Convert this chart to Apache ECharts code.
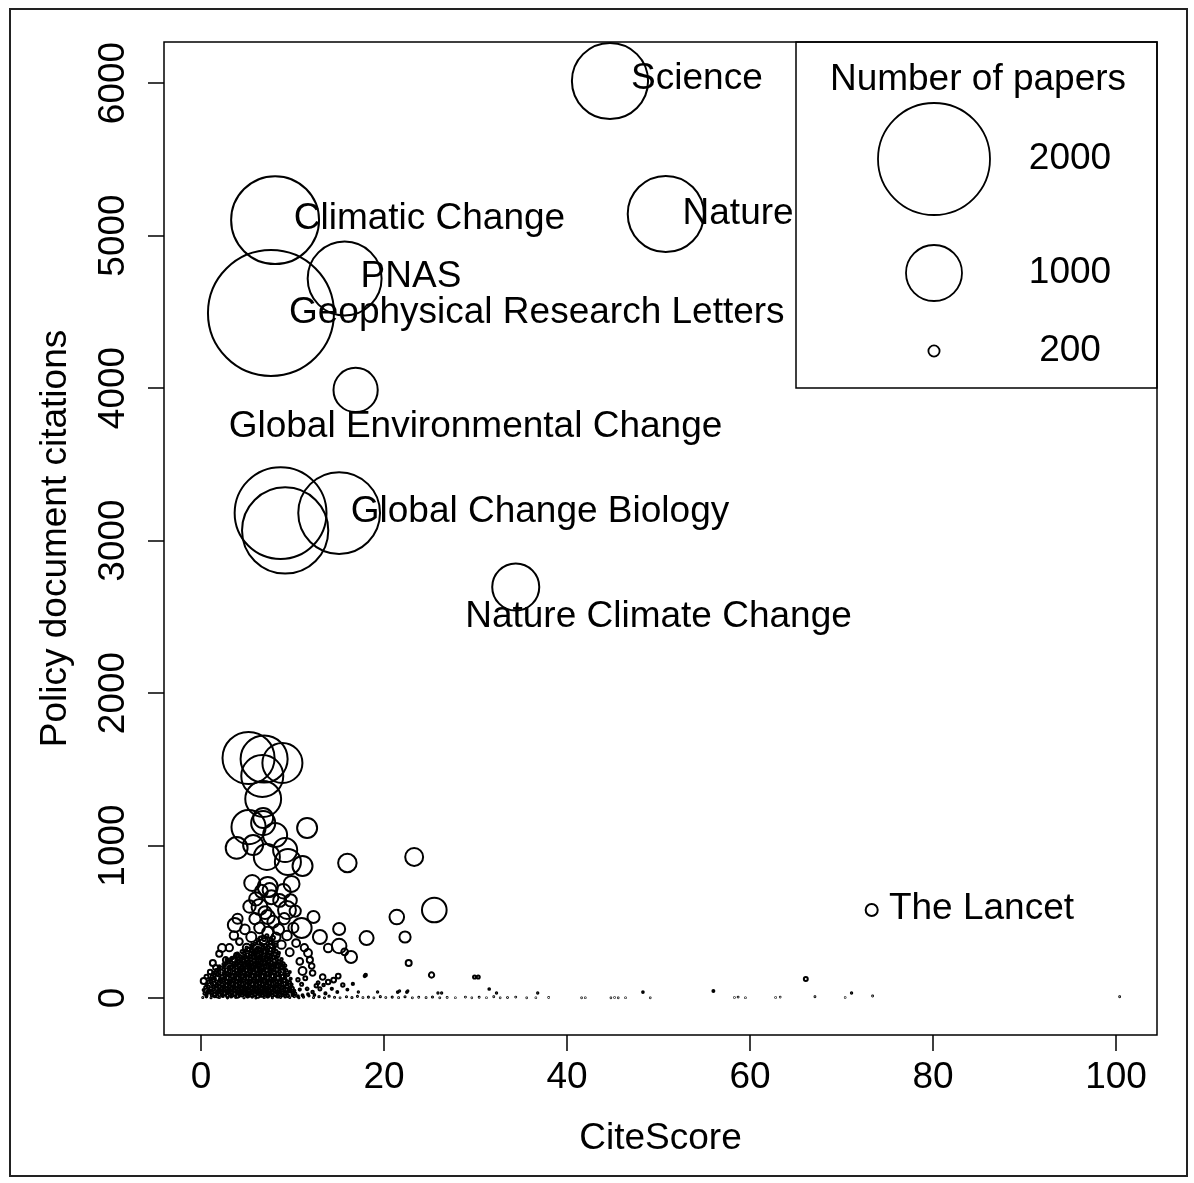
<!DOCTYPE html>
<html>
<head>
<meta charset="utf-8">
<title>Policy document citations vs CiteScore</title>
<script src="https://cdn.jsdelivr.net/npm/echarts@6/dist/echarts.min.js"></script>
<style>
  html, body { margin: 0; padding: 0; background: #fff; }
  #chart { width: 1194px; height: 1183px; }
</style>
</head>
<body>
<div id="chart"></div>
<script>
// labelled journals: CiteScore, policy document citations, number of papers
const journalNames = ['Science', 'Nature', 'Climatic Change', 'PNAS', 'Geophysical Research Letters',
  'Global Environmental Change', 'Global Change Biology', 'Nature Climate Change', 'The Lancet']
const journalCite = [44.7, 50.8, 8.1, 15.7, 7.65, 16.9, 15.1, 34.4, 73.3]
const journalPolicy = [6013, 5141, 5101, 4718, 4492, 3987, 3180, 2695, 577]
const journalPapers = [1360, 1360, 1570, 1320, 2250, 790, 1460, 840, 215]
// where each name is written (data coordinates, text centre)
const labelCite = [54.2, 58.7, 24.97, 22.95, 36.7, 30.0, 37.05, 50.0, 85.3]
const labelPolicy = [6028, 5143, 5110, 4730, 4493, 3746, 3189, 2500, 585]

// the unlabelled journals: [CiteScore, policy citations, papers]
const bigJournals = [
  [8.7, 3180, 1640], [9.2, 3066, 1540],
  [5.2, 1574, 930], [6.9, 1567, 840], [8.9, 1541, 715], [6.7, 1456, 750], [6.8, 1305, 640],
  [11.6, 1115, 357], [5.2, 1121, 610], [6.8, 1180, 357], [6.8, 1147, 430], [8.1, 1069, 430],
  [3.9, 984, 390], [5.7, 1003, 357], [7.2, 925, 465], [9.2, 970, 430], [9.5, 892, 465],
  [11.1, 866, 357], [16.0, 885, 330], [5.6, 754, 285], [7.3, 728, 357], [7.5, 708, 250],
  [9.9, 748, 285], [6.4, 597, 285], [9.4, 577, 320], [7.3, 531, 250], [3.7, 479, 250],
  [11.0, 459, 357], [12.3, 531, 215], [15.1, 452, 215], [13.0, 400, 250], [18.1, 393, 250],
  [15.1, 341, 260], [13.9, 328, 150], [15.7, 302, 120], [16.4, 269, 215], [2.3, 328, 140],
  [1.3, 230, 107], [0.3, 111, 107], [11.7, 295, 140], [11.1, 177, 140], [12.2, 164, 100],
  [12.1, 210, 100], [13.3, 138, 100], [14.5, 118, 85], [15.0, 144, 85], [17.9, 144, 40],
  [23.3, 925, 320], [25.5, 577, 440], [21.4, 531, 260], [22.3, 400, 200], [22.7, 230, 107],
  [25.2, 151, 95], [29.9, 138, 55], [30.3, 138, 55], [66.1, 125, 70]
]

const midJournals = [
  [2.0, 290, 110], [3.1, 330, 130], [3.6, 410, 150], [4.2, 370, 120], [4.8, 450, 170],
  [5.0, 330, 140], [5.5, 400, 180], [5.9, 520, 200], [6.2, 300, 160], [6.4, 460, 190],
  [6.8, 380, 150], [7.0, 560, 230], [7.3, 430, 200], [7.6, 320, 170], [7.9, 500, 210],
  [8.2, 400, 160], [8.5, 450, 190], [8.8, 350, 150], [9.1, 520, 200], [9.4, 410, 170],
  [9.7, 300, 140], [10.1, 460, 180], [10.4, 360, 140], [10.8, 240, 120], [4.5, 250, 100],
  [3.9, 280, 90], [2.7, 250, 100], [1.6, 200, 90], [1.0, 170, 80], [0.6, 140, 70],
  [5.3, 600, 220], [6.0, 650, 240], [8.6, 640, 230], [9.8, 640, 220], [10.3, 570, 200],
  [4.0, 520, 180], [7.7, 660, 250], [6.6, 700, 230], [9.0, 700, 260], [11.3, 330, 130],
  [11.9, 250, 110], [12.6, 80, 60], [13.0, 60, 55], [12.8, 100, 50], [13.4, 85, 45],
  [13.9, 105, 80], [14.3, 60, 40], [15.5, 85, 60], [14.9, 40, 35], [16.0, 55, 35],
  [13.6, 30, 40], [12.2, 40, 45], [11.6, 60, 50], [11.0, 90, 55], [10.6, 120, 60], [11.4, 130, 70]
]

// the dense heap of small journals near the origin
const smallJournals = [
  [0.4, 30, 45], [0.9, 38, 50], [1.5, 25, 55], [2.0, 42, 60], [2.6, 30, 65], [3.1, 45, 60],
  [3.7, 28, 70], [4.2, 40, 65], [4.8, 32, 75], [5.3, 46, 70], [5.9, 27, 75], [6.4, 42, 70],
  [7.0, 30, 75], [7.5, 44, 65], [8.1, 26, 70], [8.6, 40, 60], [9.2, 31, 55], [9.7, 45, 50], [10.3, 28, 45],
  [0.5, 70, 50], [1.1, 62, 55], [1.7, 78, 60], [2.3, 64, 65], [2.8, 80, 70], [3.4, 66, 75],
  [3.9, 82, 70], [4.5, 68, 80], [5.0, 79, 75], [5.6, 63, 80], [6.1, 81, 75], [6.7, 66, 80],
  [7.2, 77, 75], [7.8, 62, 70], [8.3, 80, 70], [8.9, 67, 65], [9.4, 76, 55], [10.0, 64, 50],
  [0.8, 105, 50], [1.4, 116, 55], [2.0, 100, 60], [2.5, 119, 65], [3.1, 104, 70], [3.6, 118, 75],
  [4.2, 101, 70], [4.7, 121, 80], [5.3, 106, 75], [5.8, 118, 80], [6.4, 99, 75], [6.9, 117, 80],
  [7.5, 103, 75], [8.0, 120, 70], [8.6, 106, 65], [9.1, 115, 60], [9.7, 102, 50],
  [1.2, 142, 50], [1.8, 155, 55], [2.3, 140, 60], [2.9, 158, 65], [3.4, 145, 70], [4.0, 160, 75],
  [4.5, 141, 70], [5.1, 157, 80], [5.6, 146, 75], [6.2, 161, 80], [6.7, 143, 75], [7.3, 158, 80],
  [7.8, 144, 70], [8.4, 156, 65], [8.9, 141, 60], [9.5, 152, 50],
  [1.7, 182, 50], [2.2, 196, 55], [2.8, 184, 60], [3.3, 199, 65], [3.9, 181, 70], [4.4, 195, 75],
  [5.0, 183, 70], [5.5, 200, 80], [6.1, 185, 75], [6.6, 198, 80], [7.2, 182, 75], [7.7, 197, 70],
  [8.3, 186, 65], [8.8, 199, 60], [9.3, 181, 50],
  [2.5, 222, 50], [3.0, 238, 55], [3.6, 225, 60], [4.1, 240, 65], [4.7, 221, 70], [5.2, 236, 75],
  [5.8, 224, 70], [6.3, 241, 80], [6.9, 226, 75], [7.4, 239, 70], [8.0, 223, 65], [8.5, 237, 60], [9.0, 225, 50],
  [3.4, 262, 50], [4.0, 278, 55], [4.6, 264, 60], [5.1, 280, 70], [5.7, 266, 65], [6.2, 279, 75],
  [6.8, 261, 70], [7.3, 277, 75], [7.9, 265, 65], [8.4, 279, 55],
  [4.5, 305, 55], [5.2, 318, 60], [5.8, 302, 70], [6.4, 320, 65], [7.0, 304, 75], [7.6, 317, 65], [8.2, 306, 55],
  [5.6, 345, 55], [6.3, 362, 60], [7.0, 343, 65], [7.6, 366, 60], [8.2, 348, 55],
  [6.5, 392, 60], [7.2, 408, 55], [7.9, 395, 60],
  // second layer, in between the first
  [0.6, 15, 40], [1.2, 18, 45], [1.8, 12, 50], [2.3, 20, 50], [2.9, 14, 55], [3.4, 19, 55], [4.0, 13, 60],
  [4.5, 21, 60], [5.1, 15, 60], [5.6, 18, 60], [6.2, 12, 60], [6.7, 20, 60], [7.3, 16, 60], [7.8, 19, 55],
  [8.4, 13, 55], [8.9, 21, 50], [9.5, 14, 45], [10.0, 19, 40], [10.6, 12, 35], [11.1, 18, 35], [11.7, 25, 35], [12.4, 20, 30],
  [0.3, 52, 40], [0.8, 48, 45], [1.4, 55, 50], [1.9, 50, 50], [2.5, 56, 55], [3.0, 49, 60], [3.6, 54, 60],
  [4.1, 51, 60], [4.7, 57, 60], [5.2, 50, 60], [5.8, 55, 60], [6.3, 49, 60], [6.9, 56, 60], [7.4, 51, 60],
  [8.0, 54, 55], [8.5, 50, 55], [9.1, 57, 50], [9.6, 52, 45], [10.2, 47, 40], [10.8, 55, 40],
  [0.6, 88, 40], [1.2, 92, 45], [1.7, 86, 50], [2.3, 90, 55], [2.8, 85, 60], [3.4, 93, 60], [3.9, 87, 60],
  [4.5, 91, 60], [5.0, 86, 60], [5.6, 92, 60], [6.1, 88, 60], [6.7, 90, 60], [7.2, 85, 60], [7.8, 93, 55],
  [8.3, 89, 55], [8.9, 86, 50], [9.4, 92, 45], [9.9, 88, 40],
  [1.0, 125, 40], [1.5, 128, 45], [2.1, 122, 50], [2.6, 130, 55], [3.2, 124, 60], [3.7, 129, 60], [4.3, 123, 60],
  [4.8, 131, 60], [5.4, 126, 60], [5.9, 129, 60], [6.5, 124, 60], [7.0, 130, 60], [7.6, 125, 55], [8.1, 128, 55],
  [8.7, 123, 50], [9.2, 130, 45], [9.8, 126, 40],
  [1.4, 165, 40], [2.0, 170, 45], [2.5, 163, 50], [3.1, 172, 55], [3.6, 166, 60], [4.2, 171, 60], [4.7, 164, 60],
  [5.3, 173, 60], [5.8, 167, 60], [6.4, 170, 60], [6.9, 165, 60], [7.5, 172, 55], [8.0, 166, 55], [8.6, 171, 50],
  [9.1, 164, 45], [9.7, 170, 40],
  [2.0, 208, 40], [2.6, 212, 45], [3.1, 206, 50], [3.7, 214, 55], [4.2, 209, 60], [4.8, 213, 60], [5.3, 207, 60],
  [5.9, 215, 60], [6.4, 210, 60], [7.0, 212, 60], [7.5, 206, 55], [8.1, 214, 55], [8.6, 209, 50], [9.2, 212, 45],
  [2.8, 250, 40], [3.3, 255, 45], [3.9, 248, 50], [4.4, 256, 55], [5.0, 251, 60], [5.5, 254, 60], [6.1, 249, 60],
  [6.6, 257, 60], [7.2, 252, 55], [7.7, 255, 55], [8.3, 250, 50], [8.8, 254, 45],
  [4.0, 290, 45], [4.7, 294, 50], [5.4, 288, 55], [6.0, 296, 60], [6.6, 291, 60], [7.2, 293, 55], [7.8, 289, 50], [8.5, 295, 45],
  [5.0, 330, 45], [5.6, 334, 50], [6.2, 328, 55], [6.8, 335, 55], [7.4, 331, 50], [8.0, 333, 45],
  // third layer
  [0.7, 36, 45], [1.2, 33, 50], [1.8, 37, 55], [2.3, 34, 60], [2.9, 38, 60], [3.4, 35, 60], [4.0, 36, 60],
  [4.5, 34, 60], [5.0, 38, 60], [5.6, 35, 60], [6.1, 37, 60], [6.7, 34, 60], [7.2, 38, 60], [7.8, 35, 55],
  [8.3, 37, 55], [8.9, 34, 50], [9.4, 38, 45], [10.0, 35, 40],
  [0.8, 73, 45], [1.4, 71, 50], [2.0, 74, 55], [2.5, 72, 60], [3.1, 75, 60], [3.6, 71, 60], [4.2, 74, 60],
  [4.7, 72, 60], [5.3, 75, 60], [5.8, 71, 60], [6.4, 74, 60], [6.9, 72, 60], [7.5, 75, 55], [8.0, 71, 55],
  [8.6, 74, 50], [9.1, 72, 45], [9.7, 70, 40],
  [1.1, 110, 45], [1.7, 108, 50], [2.2, 112, 55], [2.8, 109, 60], [3.3, 111, 60], [3.9, 108, 60], [4.4, 112, 60],
  [5.0, 109, 60], [5.5, 111, 60], [6.1, 108, 60], [6.6, 112, 60], [7.2, 109, 60], [7.7, 111, 55], [8.3, 108, 55],
  [8.8, 112, 50], [9.4, 109, 45],
  [1.5, 150, 45], [2.0, 148, 50], [2.6, 152, 55], [3.1, 149, 60], [3.7, 151, 60], [4.2, 148, 60], [4.8, 152, 60],
  [5.3, 149, 60], [5.9, 151, 60], [6.4, 148, 60], [7.0, 152, 60], [7.5, 149, 55], [8.1, 151, 55], [8.6, 148, 50],
  [9.2, 152, 45],
  [2.0, 190, 45], [2.5, 188, 50], [3.1, 192, 55], [3.6, 189, 60], [4.2, 191, 60], [4.7, 188, 60], [5.3, 192, 60],
  [5.8, 189, 60], [6.4, 191, 60], [6.9, 188, 60], [7.5, 192, 55], [8.0, 189, 55], [8.6, 191, 50], [9.1, 188, 45],
  [2.8, 230, 45], [3.3, 232, 50], [3.9, 229, 55], [4.4, 231, 60], [5.0, 228, 60], [5.5, 232, 60], [6.1, 229, 60],
  [6.6, 231, 60], [7.2, 228, 55], [7.7, 232, 55], [8.3, 229, 50], [8.8, 231, 45],
  [3.7, 270, 45], [4.3, 272, 50], [4.9, 269, 55], [5.4, 271, 60], [6.0, 268, 60], [6.5, 272, 60], [7.1, 269, 55],
  [7.6, 271, 55], [8.2, 270, 50],
  [4.8, 310, 45], [5.5, 312, 50], [6.1, 309, 55], [6.7, 311, 55], [7.3, 310, 50], [7.9, 312, 45],
  [5.9, 355, 45], [6.6, 352, 50], [7.3, 356, 50], [7.9, 354, 45],
  [6.2, 380, 50], [6.9, 384, 55], [7.6, 381, 50]
]

// journals with hardly any policy citations, strung along zero
const tinyJournals = [
  [0.2, 3, 20], [0.6, 8, 25], [1.1, 2, 20], [1.5, 10, 30], [2.0, 4, 25], [2.4, 12, 30], [2.9, 1, 20],
  [3.3, 9, 30], [3.8, 5, 25], [4.2, 14, 30], [4.7, 2, 20], [5.1, 11, 30], [5.6, 6, 25], [6.0, 1, 20],
  [6.5, 13, 30], [6.9, 4, 25], [7.3, 9, 30], [7.8, 2, 20], [8.3, 12, 30], [8.7, 5, 25], [9.2, 8, 30],
  [9.7, 3, 20], [10.2, 10, 25], [10.7, 2, 20], [11.2, 7, 25], [11.8, 14, 25], [12.3, 3, 20], [12.9, 9, 25],
  [13.5, 2, 20], [14.0, 12, 25], [14.6, 5, 20], [15.2, 1, 15], [15.9, 8, 20], [16.5, 3, 20], [17.1, 11, 20],
  [17.7, 2, 15], [18.3, 6, 20], [18.9, 1, 15], [19.6, 9, 20], [20.2, 3, 15], [20.9, 6, 20], [21.6, 2, 15],
  [22.3, 8, 20], [23.1, 1, 15], [23.8, 5, 15], [24.6, 2, 15], [25.3, 7, 20], [26.1, 1, 15], [26.9, 4, 15],
  [27.8, 2, 10], [28.9, 6, 15], [29.6, 1, 10], [30.4, 5, 15], [31.2, 2, 10], [32.0, 8, 15], [32.7, 1, 10],
  [33.5, 3, 15], [34.4, 6, 15], [35.6, 1, 10], [36.6, 2, 10], [38.0, 4, 10], [41.6, 1, 10], [42.0, 2, 10],
  [44.8, 1, 10], [45.2, 3, 10], [45.6, 1, 10], [46.4, 2, 10], [49.1, 1, 10], [58.3, 3, 10], [58.7, 6, 15],
  [59.5, 2, 10], [62.8, 3, 10], [63.3, 6, 10], [67.1, 8, 15], [70.4, 3, 10], [73.4, 13, 15], [100.4, 8, 15],
  [21.5, 39, 30], [22.5, 39, 30], [25.9, 33, 25], [26.3, 33, 25], [31.5, 59, 30], [32.3, 33, 25],
  [36.8, 33, 25], [48.3, 39, 30], [56.0, 46, 35], [71.1, 33, 25], [16.6, 92, 40], [17.2, 39, 25],
  [18.0, 151, 45], [19.3, 39, 25], [21.7, 46, 25], [22.6, 46, 25]
]

const xTicks = [0, 20, 40, 60, 80, 100]
const yTicks = [0, 1000, 2000, 3000, 4000, 5000, 6000]
const legendPapers = [2000, 1000, 200]

const FONT = '"Liberation Sans", Arial, Helvetica, sans-serif'
// circle radius in px grows linearly with the number of papers
const PX_PER_PAPER = 0.028
const diameter = (n) => Math.max(2 * n * PX_PER_PAPER, 0.6)

const journalPoints = journalNames.map((name, i) => [journalCite[i], journalPolicy[i], journalPapers[i]])
const allPoints = journalPoints.concat(bigJournals, midJournals, smallJournals, tinyJournals)
const labelPoints = journalNames.map((name, i) => ({ name, value: [labelCite[i], labelPolicy[i]] }))

const chart = echarts.init(document.getElementById('chart'), null, { renderer: 'canvas' })

const legendX = 934
const legendRows = [159, 273, 351]
const legendGraphics = [
  { type: 'rect', shape: { x: 796, y: 42, width: 361, height: 346 },
    style: { fill: 'none', stroke: '#000', lineWidth: 1.5 } },
  { type: 'text', x: 978, y: 80,
    style: { text: 'Number of papers', font: '37px ' + FONT, fill: '#000', align: 'center', verticalAlign: 'middle' } }
]
legendPapers.forEach((n, i) => {
  legendGraphics.push({ type: 'circle', shape: { cx: legendX, cy: legendRows[i], r: n * PX_PER_PAPER },
    style: { fill: 'none', stroke: '#000', lineWidth: 1.8 } })
  legendGraphics.push({ type: 'text', x: 1070, y: legendRows[i],
    style: { text: String(n), font: '37px ' + FONT, fill: '#000', align: 'center', verticalAlign: 'middle' } })
})

chart.setOption({
  animation: false,
  backgroundColor: '#fff',
  textStyle: { fontFamily: FONT },
  grid: {
    left: 164, top: 42, width: 993, height: 993,
    show: true, borderColor: '#000', borderWidth: 1.5, backgroundColor: 'transparent'
  },
  xAxis: {
    type: 'value',
    min: -4.04,
    max: 104.48,
    name: 'CiteScore',
    nameLocation: 'middle',
    nameGap: 85,
    nameTextStyle: { fontSize: 37, color: '#000', fontFamily: FONT },
    splitLine: { show: false },
    axisLine: { show: false, onZero: false },
    axisTick: { show: true, length: 16, lineStyle: { color: '#000', width: 1.5 }, customValues: xTicks },
    axisLabel: { fontSize: 37, color: '#000', margin: 24, lineHeight: 37, fontFamily: FONT, customValues: xTicks }
  },
  yAxis: {
    type: 'value',
    min: -242.6,
    max: 6268.9,
    name: 'Policy document citations',
    nameLocation: 'middle',
    nameGap: 90,
    nameTextStyle: { fontSize: 37, color: '#000', fontFamily: FONT },
    splitLine: { show: false },
    axisLine: { show: false, onZero: false },
    axisTick: { show: true, length: 16, lineStyle: { color: '#000', width: 1.5 }, customValues: yTicks },
    axisLabel: {
      fontSize: 37, color: '#000', margin: 32, rotate: 90, lineHeight: 37, fontFamily: FONT,
      customValues: yTicks, formatter: (v) => String(v)
    }
  },
  graphic: [
    { type: 'rect', shape: { x: 10, y: 9, width: 1177, height: 1167 },
      style: { fill: 'none', stroke: '#222', lineWidth: 2 } }
  ].concat(legendGraphics),
  series: [
    {
      type: 'scatter',
      silent: true,
      data: allPoints,
      symbol: 'circle',
      symbolSize: (val) => diameter(val[2]),
      itemStyle: { color: 'transparent', borderColor: '#000', borderWidth: 2, opacity: 1 }
    },
    {
      type: 'scatter',
      silent: true,
      data: labelPoints,
      symbolSize: 1,
      itemStyle: { color: 'transparent', borderWidth: 0 },
      label: {
        show: true,
        position: 'inside',
        formatter: (p) => p.name,
        fontSize: 37,
        color: '#000',
        opacity: 1,
        textBorderWidth: 0,
        fontFamily: FONT
      }
    }
  ]
})
</script>
</body>
</html>
